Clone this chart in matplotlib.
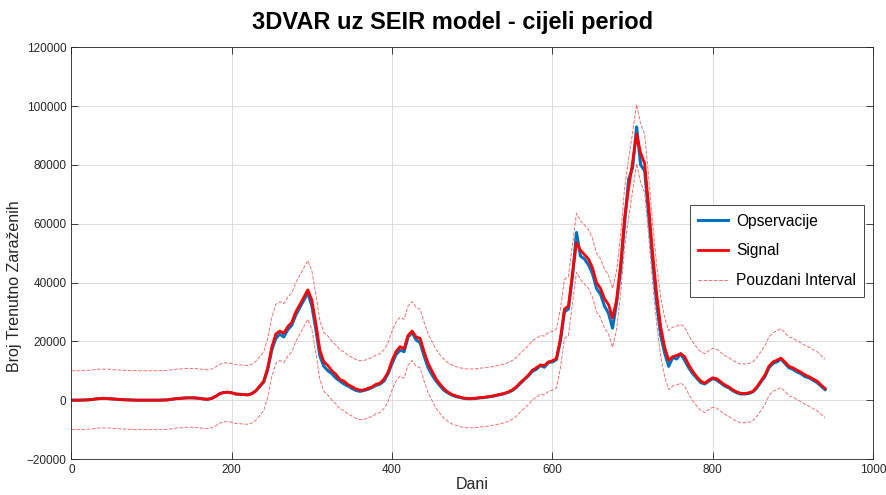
import numpy as np
import matplotlib
matplotlib.use("Agg")
import matplotlib.pyplot as plt

plt.rcParams['font.family'] = ['Liberation Sans', 'DejaVu Sans']

# dani (korak 5 dana)
days = np.arange(0, 941, 5)

# signal (3DVAR procjena)
signal = [
    0, 0, 0, 50, 100, 200, 400, 550, 600, 550, 450, 350, 250, 150, 100, 50, 0, 0, 0, 0,
    0, 0, 0, 50, 100, 300, 500, 600, 700, 800, 800, 750, 600, 400, 300, 600, 1300, 2200, 2600, 2700,
    2500, 2100, 2000, 1900, 1800, 2200, 3200, 4800, 6500, 11000,
    18000, 22500, 23500, 22800, 25000, 26500, 30000, 32500, 35000, 37500, 34000, 26000, 17000, 13000, 11800,
    10000, 8800, 7000, 6500, 5300, 4600, 3800, 3400, 3500, 4000, 4500, 5400, 5800, 7200, 9500, 13500,
    16500, 18200, 17500, 22000, 23500, 21500, 21000, 16500, 12500, 9800, 7200, 5400, 3800, 2700, 1900,
    1400, 1000, 700, 600,
    600, 700, 900, 1000, 1200, 1400, 1700, 2000, 2300, 2800, 3500, 4500, 6000, 7200, 8500, 10200,
    11000, 12000, 11800, 13000, 13400, 14200, 21000, 31000, 32000, 43000, 53500, 51000, 49500, 48000,
    45000, 40000, 38000, 34500, 32500, 28000, 34000, 46000, 62000, 72000, 81000, 90500, 84000, 80500,
    66000, 50000, 36000, 25000, 18000, 13600,
    14800, 15200, 15800, 14800, 12000, 9800, 8000, 6500, 5800, 6800, 7600, 7300, 6200, 5200, 4500,
    3500, 2800, 2300, 2300, 2500, 3000, 4500, 6500, 8500, 11500, 13000, 13600, 14300, 13000, 11500,
    11000, 10200, 9500, 8600, 8000, 7200, 6500, 5200, 4000,
]

# opservacije
observations = [
    0, 0, 0, 50, 100, 200, 400, 550, 600, 550, 450, 350, 250, 150, 100, 50, 0, 0, 0, 0,
    0, 0, 0, 50, 100, 300, 500, 600, 700, 800, 800, 750, 600, 400, 300, 600, 1300, 2200, 2600, 2700,
    2500, 2100, 2000, 1900, 1800, 2200, 3100, 4600, 6200, 10500,
    17000, 21000, 22500, 21500, 24000, 25500, 29000, 31500, 34000, 36500, 32000, 24000, 15000, 11500, 10000,
    9000, 7500, 6500, 5500, 4800, 4000, 3300, 3000, 3300, 3700, 4300, 5000, 5500, 6500, 9000, 12500,
    15500, 17000, 16500, 21500, 23000, 20500, 19500, 15000, 11000, 8500, 6500, 4800, 3300, 2400, 1700,
    1200, 900, 600, 500,
    500, 600, 800, 900, 1100, 1300, 1600, 1900, 2200, 2700, 3300, 4300, 5700, 7000, 8300, 9800,
    10500, 11800, 11200, 12800, 13000, 13800, 20000, 30000, 31000, 42000, 57000, 49000, 48000, 46000,
    43000, 38000, 36000, 32000, 29500, 24500, 33000, 44000, 60000, 75000, 79000, 92900, 80000, 78000,
    63000, 47000, 33000, 22000, 16000, 11500,
    14500, 14000, 15800, 13500, 11000, 9000, 7500, 6000, 5500, 6500, 7400, 6800, 5800, 4800, 4200,
    3200, 2500, 2100, 2100, 2300, 2800, 4200, 6200, 8000, 11000, 12500, 13000, 14000, 12500, 11000,
    10500, 9600, 9000, 8000, 7600, 6800, 6000, 4800, 3600,
]

# polusirina pouzdanog intervala
ci_half = 10000

x_ticks = [0, 200, 400, 600, 800, 1000]
y_ticks = [-20000, 0, 20000, 40000, 60000, 80000, 100000, 120000]

signal = np.array(signal, dtype=float)
observations = np.array(observations, dtype=float)

fig = plt.figure(figsize=(8.86, 4.95), dpi=100)
ax = fig.add_axes([0.0805, 0.0727, 0.905, 0.832])

ax.plot(days, observations, color='#0072BD', lw=2.2, label='Opservacije')
ax.plot(days, signal, color='#FF0000', lw=2.0, label='Signal')
ax.plot(days, signal + ci_half, '--', color='#F07070', lw=0.7, label='Pouzdani Interval')
ax.plot(days, signal - ci_half, '--', color='#F07070', lw=0.7)

ax.set_xlim(0, 1000)
ax.set_ylim(-20000, 120000)
ax.set_xticks(x_ticks)
ax.set_yticks(y_ticks)
ax.grid(True, color='#DCDCDC', lw=0.7)
ax.set_axisbelow(True)
ax.tick_params(direction='in', length=5, width=0.6, colors='#262626', labelsize=8.5,
               top=True, right=True)
for s in ax.spines.values():
    s.set_color('#262626')
    s.set_linewidth(0.6)

ax.set_xlabel('Dani', fontsize=11.5, color='#262626', labelpad=1)
ax.set_ylabel('Broj Trenutno Zaraženih', fontsize=11.5, color='#262626')
ax.yaxis.set_label_coords(-0.061, 0.42)
ax.set_title('3DVAR uz SEIR model - cijeli period', fontsize=17, fontweight='bold',
             pad=13, x=0.476)

leg = ax.legend(loc='upper right', bbox_to_anchor=(0.989, 0.6165), fontsize=11.2,
                frameon=True, fancybox=False, framealpha=1, edgecolor='#262626',
                handlelength=1.9, handletextpad=0.5, borderpad=0.55, labelspacing=0.95,
                borderaxespad=0)
leg.get_frame().set_linewidth(0.6)

fig.savefig('out.png', dpi=100)
